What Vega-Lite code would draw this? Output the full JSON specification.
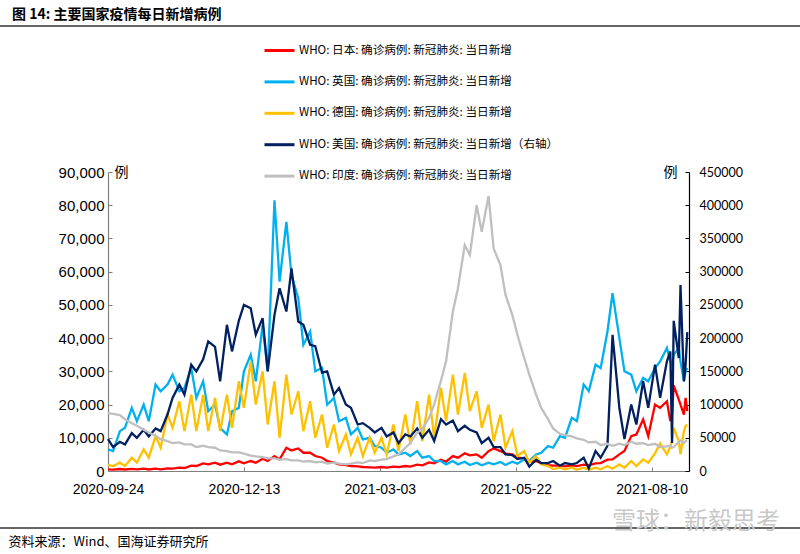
{
  "$schema": "https://vega.github.io/schema/vega-lite/v6.json",
  "width": 581,
  "height": 299,
  "autosize": {"type": "none"},
  "padding": {"left": 108, "top": 172, "right": 111, "bottom": 83},
  "background": "white",
  "title": {"text": "图 14:  主要国家疫情每日新增病例", "anchor": "start", "frame": "group", "dx": -96, "dy": 7, "font": "Noto Sans CJK SC", "fontSize": 14, "fontWeight": "bold", "color": "#000000", "offset": 10},
  "datasets": {
    "covid": [
      {"d":"2020-09-24","jp":500,"uk":6500,"de":1800,"us":48000,"in":87000},
      {"d":"2020-09-27","jp":400,"uk":6000,"de":1500,"us":36000,"in":86000},
      {"d":"2020-10-01","jp":600,"uk":12000,"de":2500,"us":44000,"in":84000},
      {"d":"2020-10-04","jp":450,"uk":13000,"de":1500,"us":40000,"in":78000},
      {"d":"2020-10-08","jp":650,"uk":19000,"de":4000,"us":57000,"in":72000},
      {"d":"2020-10-11","jp":500,"uk":15000,"de":2500,"us":50000,"in":68000},
      {"d":"2020-10-15","jp":700,"uk":20000,"de":6500,"us":62000,"in":62000},
      {"d":"2020-10-18","jp":450,"uk":15000,"de":4000,"us":52000,"in":58000},
      {"d":"2020-10-22","jp":700,"uk":26000,"de":10500,"us":64000,"in":53000},
      {"d":"2020-10-25","jp":500,"uk":24000,"de":7000,"us":60000,"in":48000},
      {"d":"2020-10-29","jp":800,"uk":26000,"de":17000,"us":85000,"in":45000},
      {"d":"2020-11-01","jp":700,"uk":29000,"de":13000,"us":110000,"in":42000},
      {"d":"2020-11-05","jp":1000,"uk":24000,"de":21000,"us":130000,"in":43000},
      {"d":"2020-11-08","jp":900,"uk":25000,"de":12000,"us":115000,"in":40000},
      {"d":"2020-11-12","jp":1600,"uk":31000,"de":23000,"us":160000,"in":40000},
      {"d":"2020-11-15","jp":1500,"uk":22000,"de":12000,"us":150000,"in":36000},
      {"d":"2020-11-19","jp":2300,"uk":27000,"de":23000,"us":168000,"in":38000},
      {"d":"2020-11-22","jp":2000,"uk":18000,"de":12000,"us":195000,"in":36000},
      {"d":"2020-11-26","jp":2500,"uk":20000,"de":22000,"us":187000,"in":35000},
      {"d":"2020-11-29","jp":1900,"uk":13000,"de":12000,"us":135000,"in":31000},
      {"d":"2020-12-03","jp":2500,"uk":11000,"de":23000,"us":220000,"in":30000},
      {"d":"2020-12-06","jp":2000,"uk":18000,"de":13000,"us":180000,"in":28000},
      {"d":"2020-12-10","jp":2900,"uk":19000,"de":27000,"us":226000,"in":28000},
      {"d":"2020-12-13","jp":2300,"uk":30000,"de":19000,"us":250000,"in":26000},
      {"d":"2020-12-17","jp":3000,"uk":35000,"de":33000,"us":245000,"in":23000},
      {"d":"2020-12-20","jp":2500,"uk":27000,"de":20000,"us":205000,"in":22000},
      {"d":"2020-12-24","jp":3700,"uk":44000,"de":30000,"us":230000,"in":21000},
      {"d":"2020-12-27","jp":3000,"uk":30000,"de":14000,"us":150000,"in":19000},
      {"d":"2020-12-31","jp":4500,"uk":81500,"de":27000,"us":235000,"in":19000},
      {"d":"2021-01-03","jp":3500,"uk":57000,"de":10000,"us":275000,"in":17000},
      {"d":"2021-01-07","jp":7000,"uk":75000,"de":29000,"us":240000,"in":18000},
      {"d":"2021-01-10","jp":6200,"uk":59000,"de":17000,"us":305000,"in":16000},
      {"d":"2021-01-14","jp":6800,"uk":52000,"de":24000,"us":225000,"in":16000},
      {"d":"2021-01-17","jp":5500,"uk":38000,"de":12000,"us":220000,"in":14000},
      {"d":"2021-01-21","jp":5500,"uk":42000,"de":21000,"us":190000,"in":15000},
      {"d":"2021-01-24","jp":4500,"uk":30000,"de":10000,"us":188000,"in":13000},
      {"d":"2021-01-28","jp":4000,"uk":31000,"de":17000,"us":148000,"in":14000},
      {"d":"2021-01-31","jp":3000,"uk":20000,"de":7000,"us":150000,"in":11000},
      {"d":"2021-02-04","jp":2500,"uk":22000,"de":14000,"us":115000,"in":12500},
      {"d":"2021-02-07","jp":2000,"uk":15000,"de":6000,"us":125000,"in":11000},
      {"d":"2021-02-11","jp":1800,"uk":16000,"de":11000,"us":100000,"in":10000},
      {"d":"2021-02-14","jp":1500,"uk":11000,"de":5000,"us":95000,"in":11000},
      {"d":"2021-02-18","jp":1400,"uk":13000,"de":10000,"us":70000,"in":13000},
      {"d":"2021-02-21","jp":1200,"uk":9500,"de":4500,"us":72000,"in":12000},
      {"d":"2021-02-25","jp":1100,"uk":10000,"de":10000,"us":65000,"in":16000},
      {"d":"2021-02-28","jp":1000,"uk":7500,"de":5500,"us":58000,"in":15000},
      {"d":"2021-03-04","jp":1200,"uk":7000,"de":10000,"us":65000,"in":17000},
      {"d":"2021-03-07","jp":1000,"uk":5500,"de":5000,"us":52000,"in":18000},
      {"d":"2021-03-11","jp":1300,"uk":6500,"de":14000,"us":58000,"in":22000},
      {"d":"2021-03-14","jp":1200,"uk":5000,"de":6000,"us":42000,"in":25000},
      {"d":"2021-03-18","jp":1500,"uk":5500,"de":17000,"us":55000,"in":35000},
      {"d":"2021-03-21","jp":1300,"uk":4500,"de":8000,"us":52000,"in":42000},
      {"d":"2021-03-25","jp":1900,"uk":6000,"de":21000,"us":64000,"in":58000},
      {"d":"2021-03-28","jp":1700,"uk":4000,"de":9000,"us":50000,"in":63000},
      {"d":"2021-04-01","jp":2600,"uk":4500,"de":23000,"us":62000,"in":80000},
      {"d":"2021-04-04","jp":2300,"uk":3000,"de":10000,"us":45000,"in":100000},
      {"d":"2021-04-08","jp":3400,"uk":3000,"de":25000,"us":78000,"in":136000},
      {"d":"2021-04-11","jp":2800,"uk":2000,"de":15000,"us":70000,"in":165000},
      {"d":"2021-04-15","jp":4500,"uk":3000,"de":29000,"us":76000,"in":240000},
      {"d":"2021-04-18","jp":4000,"uk":2000,"de":17000,"us":60000,"in":275000},
      {"d":"2021-04-22","jp":5300,"uk":2800,"de":29500,"us":68000,"in":340000},
      {"d":"2021-04-25","jp":4700,"uk":1800,"de":18000,"us":62000,"in":325000},
      {"d":"2021-04-29","jp":5000,"uk":2500,"de":24000,"us":58000,"in":400000},
      {"d":"2021-05-02","jp":4000,"uk":1700,"de":13000,"us":42000,"in":360000},
      {"d":"2021-05-06","jp":6000,"uk":2500,"de":20000,"us":50000,"in":414000},
      {"d":"2021-05-09","jp":6800,"uk":2000,"de":9000,"us":36000,"in":335000},
      {"d":"2021-05-13","jp":6000,"uk":2700,"de":17000,"us":36000,"in":310000},
      {"d":"2021-05-16","jp":5200,"uk":1800,"de":7000,"us":25000,"in":265000},
      {"d":"2021-05-20","jp":5000,"uk":2800,"de":12000,"us":24000,"in":235000},
      {"d":"2021-05-23","jp":4000,"uk":2200,"de":4500,"us":18000,"in":205000},
      {"d":"2021-05-27","jp":3800,"uk":3500,"de":6000,"us":20000,"in":170000},
      {"d":"2021-05-30","jp":2800,"uk":3000,"de":2500,"us":6500,"in":145000},
      {"d":"2021-06-03","jp":3000,"uk":5000,"de":4500,"us":17000,"in":115000},
      {"d":"2021-06-06","jp":2300,"uk":5500,"de":2000,"us":12000,"in":95000},
      {"d":"2021-06-10","jp":1800,"uk":7500,"de":1500,"us":12000,"in":78000},
      {"d":"2021-06-13","jp":1600,"uk":7000,"de":600,"us":15000,"in":64000},
      {"d":"2021-06-17","jp":1700,"uk":10500,"de":1000,"us":8000,"in":56000},
      {"d":"2021-06-20","jp":1400,"uk":10000,"de":500,"us":12000,"in":54000},
      {"d":"2021-06-24","jp":1700,"uk":16000,"de":1000,"us":10000,"in":52000},
      {"d":"2021-06-27","jp":1500,"uk":15000,"de":400,"us":12000,"in":49000},
      {"d":"2021-07-01","jp":1900,"uk":26000,"de":1000,"us":20000,"in":47000},
      {"d":"2021-07-04","jp":1700,"uk":24000,"de":400,"us":4000,"in":43000},
      {"d":"2021-07-08","jp":2300,"uk":32000,"de":1000,"us":30000,"in":44000},
      {"d":"2021-07-11","jp":2400,"uk":31000,"de":500,"us":20000,"in":39000},
      {"d":"2021-07-15","jp":3400,"uk":42000,"de":1500,"us":38000,"in":41000},
      {"d":"2021-07-18","jp":3500,"uk":53500,"de":700,"us":205000,"in":38000},
      {"d":"2021-07-22","jp":5000,"uk":40000,"de":2000,"us":95000,"in":41000},
      {"d":"2021-07-25","jp":6000,"uk":30000,"de":1000,"us":48000,"in":39000},
      {"d":"2021-07-29","jp":10500,"uk":29000,"de":3000,"us":100000,"in":44000},
      {"d":"2021-08-01","jp":11000,"uk":24000,"de":1500,"us":70000,"in":41000},
      {"d":"2021-08-05","jp":15500,"uk":28000,"de":3500,"us":135000,"in":42000},
      {"d":"2021-08-08","jp":10500,"uk":27000,"de":2500,"us":95000,"in":39000},
      {"d":"2021-08-12","jp":20000,"uk":31000,"de":5300,"us":160000,"in":41000},
      {"d":"2021-08-15","jp":19000,"uk":33000,"de":8300,"us":110000,"in":36000},
      {"d":"2021-08-19","jp":21000,"uk":37000,"de":5000,"us":165000,"in":37000},
      {"d":"2021-08-21","jp":15000,"uk":33000,"de":7300,"us":180000,"in":38000},
      {"d":"2021-08-22","jp":17000,"uk":32000,"de":9000,"us":42000,"in":35000},
      {"d":"2021-08-23","jp":25800,"uk":35000,"de":13000,"us":226000,"in":36000},
      {"d":"2021-08-26","jp":21500,"uk":37000,"de":9000,"us":170000,"in":44000},
      {"d":"2021-08-27","jp":20000,"uk":33000,"de":5000,"us":280000,"in":46000},
      {"d":"2021-08-29","jp":17000,"uk":27000,"de":12000,"us":135000,"in":42000},
      {"d":"2021-08-30","jp":22000,"uk":30000,"de":13500,"us":160000,"in":45000},
      {"d":"2021-08-31","jp":18000,"uk":31000,"de":14000,"us":209000,"in":46000}
    ]
  },
  "layer": [
    {
      "data": {"name": "covid"},
      "transform": [
        {"fold": ["jp", "uk", "de"], "as": ["s", "v"]}
      ],
      "mark": {"type": "line", "strokeWidth": 2.3},
      "encoding": {
        "x": {
          "field": "d", "type": "temporal",
          "scale": {"type": "utc", "domain": [{"year": 2020, "month": 9, "date": 24, "utc": true}, {"year": 2021, "month": 9, "date": 1, "utc": true}]},
          "axis": {
            "values": [
              {"year": 2020, "month": 9, "date": 24, "utc": true},
              {"year": 2020, "month": 12, "date": 13, "utc": true},
              {"year": 2021, "month": 3, "date": 3, "utc": true},
              {"year": 2021, "month": 5, "date": 22, "utc": true},
              {"year": 2021, "month": 8, "date": 10, "utc": true}
            ],
            "format": "%Y-%m-%d",
            "labelFont": "Liberation Sans", "labelFontSize": 14, "labelColor": "#000000",
            "labelPadding": 15, "labelFlush": false, "labelOverlap": false,
            "tickSize": -4, "tickColor": "#808080", "domainColor": "#808080", "domainWidth": 1.2,
            "grid": false,
            "title": "资料来源：Wind、国海证券研究所",
            "titleFont": "Noto Sans CJK SC", "titleFontSize": 13, "titleFontWeight": "normal", "titleColor": "#000000",
            "titleX": -100, "titleY": 70, "titleAlign": "left", "titleBaseline": "middle", "titleAnchor": null
          }
        },
        "y": {
          "field": "v", "type": "quantitative",
          "scale": {"domain": [0, 90000], "nice": false},
          "axis": {
            "orient": "left",
            "values": [0, 10000, 20000, 30000, 40000, 50000, 60000, 70000, 80000, 90000],
            "format": ",.0f",
            "labelFont": "Liberation Sans", "labelFontSize": 15, "labelColor": "#000000", "labelPadding": 8,
            "tickSize": -4, "tickColor": "#808080", "domainColor": "#808080", "domainWidth": 1.2,
            "grid": false,
            "title": "例", "titleAngle": 0, "titleX": 6, "titleY": 0, "titleAlign": "left", "titleBaseline": "middle",
            "titleFont": "Noto Sans CJK SC", "titleFontSize": 14, "titleFontWeight": "normal", "titleColor": "#000000"
          }
        },
        "color": {
          "field": "s", "type": "nominal",
          "scale": {"domain": ["jp", "uk", "de", "us", "in"], "range": ["#FF0000", "#00B0F0", "#FFC000", "#002060", "#BFBFBF"]},
          "legend": {
            "orient": "none", "legendX": 155, "legendY": -138, "direction": "vertical",
            "title": null, "padding": 0,
            "symbolType": "stroke", "symbolSize": 900, "symbolStrokeWidth": 3,
            "labelFont": "Noto Sans CJK SC", "labelFontSize": 11.6, "labelColor": "#000000", "labelLimit": 500, "labelOffset": 3,
            "rowPadding": 8.4,
            "labelExpr": "{'jp':'WHO: 日本: 确诊病例: 新冠肺炎: 当日新增','uk':'WHO: 英国: 确诊病例: 新冠肺炎: 当日新增','de':'WHO: 德国: 确诊病例: 新冠肺炎: 当日新增','us':'WHO: 美国: 确诊病例: 新冠肺炎: 当日新增（右轴）','in':'WHO: 印度: 确诊病例: 新冠肺炎: 当日新增'}[datum.label]"
          }
        }
      }
    },
    {
      "data": {"name": "covid"},
      "transform": [
        {"fold": ["us", "in"], "as": ["s", "v"]}
      ],
      "mark": {"type": "line", "strokeWidth": 2.3},
      "encoding": {
        "x": {"field": "d", "type": "temporal"},
        "y": {
          "field": "v", "type": "quantitative",
          "scale": {"domain": [0, 450000], "nice": false},
          "axis": {
            "orient": "right",
            "values": [0, 50000, 100000, 150000, 200000, 250000, 300000, 350000, 400000, 450000],
            "format": "d",
            "labelFont": "Lato", "labelFontSize": 12.5, "labelColor": "#000000", "labelPadding": 14,
            "tickSize": -4, "tickColor": "#000000", "domainColor": "#000000", "domainWidth": 1.2,
            "grid": false,
            "title": "例", "titleAngle": 0, "titleX": -12, "titleY": 0, "titleAlign": "right", "titleBaseline": "middle",
            "titleFont": "Noto Sans CJK SC", "titleFontSize": 14, "titleFontWeight": "normal", "titleColor": "#000000"
          }
        },
        "color": {"field": "s", "type": "nominal"}
      }
    },
    {
      "data": {"values": [{"p": "top"}]},
      "mark": {"type": "rule", "stroke": "#333333", "strokeWidth": 1.5},
      "encoding": {"x": {"value": -108}, "x2": {"value": 692}, "y": {"value": -146}}
    },
    {
      "data": {"values": [{"p": "bottom"}]},
      "mark": {"type": "rule", "stroke": "#333333", "strokeWidth": 1.5},
      "encoding": {"x": {"value": -108}, "x2": {"value": 692}, "y": {"value": 356}}
    },
    {
      "data": {"values": [{"p": "mark"}]},
      "mark": {"type": "text", "text": "雪球：新毅思考", "font": "Noto Sans CJK SC", "fontSize": 24, "color": "#c8c8c8", "align": "right", "baseline": "middle"},
      "encoding": {"x": {"value": 672}, "y": {"value": 350}}
    }
  ],
  "resolve": {"scale": {"y": "independent"}},
  "config": {"view": {"stroke": null}, "font": "Liberation Sans"}
}
